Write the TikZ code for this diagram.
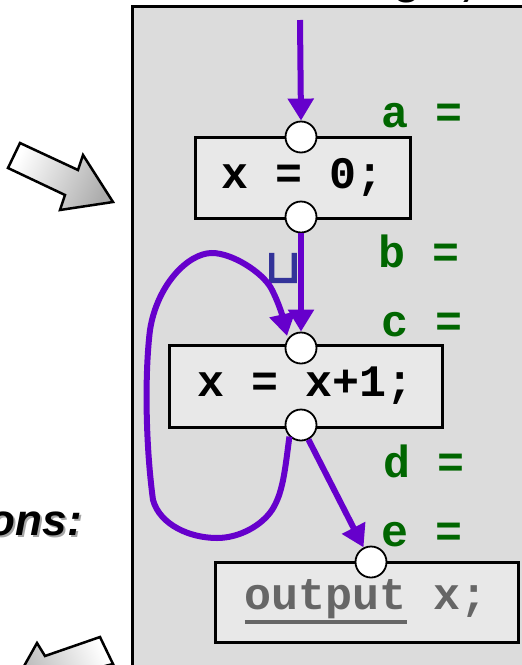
\documentclass[tikz,border=0pt]{standalone}
\usepackage{fontspec}
\setmainfont{Liberation Sans}
\newfontfamily\codefont{Liberation Mono}
\newfontfamily\symfont[FakeBold=3]{DejaVu Sans}
\usetikzlibrary{arrows.meta,shadings}
\definecolor{panelgray}{HTML}{DCDCDC}
\definecolor{boxgray}{HTML}{E8E8E8}
\definecolor{flowpurple}{HTML}{6600CC}
\definecolor{labgreen}{HTML}{006600}
\definecolor{unionblue}{HTML}{333399}
\definecolor{codegray}{HTML}{666666}
\newcommand\widebar[1]{\setbox0\hbox{#1}\rlap{\rule[-14pt]{\wd0}{4pt}}\box0\relax}
\tikzset{
  codebox/.style={draw=black, line width=3pt, fill=boxgray, inner sep=0pt,
    font=\codefont\bfseries\fontsize{45}{50}\selectfont},
  port/.style={circle, draw=black, line width=1.8pt, fill=white, minimum size=31pt, inner sep=0pt},
  flow/.style={draw=flowpurple, line width=6pt, -{Triangle[width=25pt,length=22pt]}},
  eqlab/.style={text=labgreen, anchor=base west, inner sep=0pt,
    font=\codefont\bfseries\fontsize{45}{50}\selectfont},
  blockarrow/.style={draw=black, line width=2.5pt, line join=miter, left color=white, right color=gray!65},
  titletext/.style={anchor=base, inner sep=0pt, font=\bfseries\fontsize{45}{50}\selectfont},
}
\begin{document}
\begin{tikzpicture}[x=1pt,y=-1pt]
\useasboundingbox (0,0) rectangle (522,665);
\clip (0,0) rectangle (522,665);
% top partial title
\node[titletext] (ttlg) at (407,-7) {g};
\node[titletext] (ttls) at (467,-5) {;};
% panel
\draw[line width=3pt, fill=panelgray] (132,6) rectangle (560,700);
% left texts and arrows
\node[anchor=base east, inner sep=0pt, text=gray!70, font=\bfseries\itshape\fontsize{44}{50}\selectfont] (eqsh) at (84,537) {Equations:};
\node[anchor=base east, inner sep=0pt, font=\bfseries\itshape\fontsize{44}{50}\selectfont] (eq) at (82,535) {Equations:};
\path[blockarrow, shading angle=64] (8,168) -- (20,143) -- (78,170) -- (83,155) -- (113,202) -- (60,210) -- (65,195) -- cycle;
\path[blockarrow, shading angle=-65] (100,637) -- (45,656) -- (37,643) -- (5,700) -- (70,690) -- (58,678) -- (113,664) -- cycle;
% boxes
\node[codebox, minimum width=215pt, minimum height=81pt] (b1) at (302.5,177.5) {x = 0;};
\node[codebox, minimum width=273pt, minimum height=82pt] (b2) at (305.5,386) {x = x+1;};
\node[codebox, minimum width=303pt, minimum height=80pt, text=codegray] (b3) at (366.5,602) {\widebar{output} x;};
% ports
\node[port] (c1in) at (301,137) {};
\node[port] (c1out) at (301,217) {};
\node[port] (c2in) at (301,348) {};
\node[port] (c2out) at (301,425) {};
\node[port] (c3in) at (371,562) {};
% labels
\node[eqlab] (la) at (381,127) {a =};
\node[eqlab] (lb) at (378,267) {b =};
\node[eqlab] (lc) at (381,336) {c =};
\node[eqlab] (ld) at (383,477) {d =};
\node[eqlab] (le) at (381,546) {e =};
\node[text=unionblue, inner sep=0pt, font=\symfont\fontsize{46}{52}\selectfont] (un) at (283,268) {⊔};
% flows
\coordinate (start) at (300,20);
\draw[flow] (start) -- (c1in.north);
\draw[flow] (c1out.south) -- (c2in.north);
\draw[flow] (c2out.south west) .. controls (285,470) and (283,493) .. (272,510)
  .. controls (262,525) and (240,538) .. (217,538)
  .. controls (190,538) and (160,525) .. (153,500)
  .. controls (145,440) and (145,370) .. (150,330)
  .. controls (157,285) and (188,253) .. (212,253)
  .. controls (232,253) and (262,272) .. (271,288)
  .. controls (279,303) and (283,318) .. (287,336);
\draw[flow] (c2out) -- (c3in);
\end{tikzpicture}
\end{document}
